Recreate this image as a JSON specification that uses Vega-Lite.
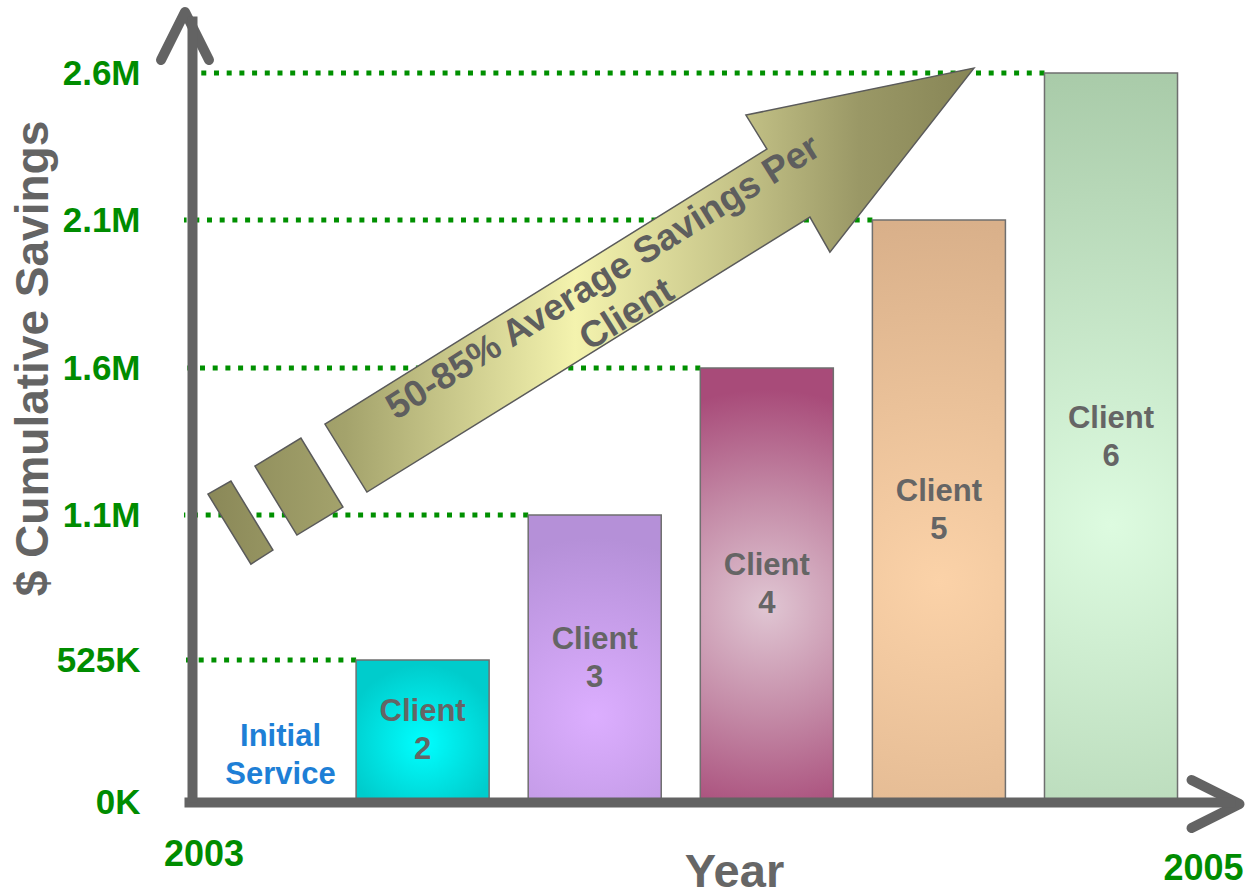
{
  "$schema": "https://vega.github.io/schema/vega-lite/v6.json",
  "width": 1051,
  "height": 786,
  "autosize": {"type": "none"},
  "padding": {"left": 184, "top": 16, "right": 12, "bottom": 93},
  "background": "white",
  "config": {"view": {"stroke": null}, "font": "Liberation Sans"},
  "data": {"values": [
    {"name": "Initial Service", "value": 0},
    {"name": "Client 2", "value": 525},
    {"name": "Client 3", "value": 1100},
    {"name": "Client 4", "value": 1600},
    {"name": "Client 5", "value": 2100},
    {"name": "Client 6", "value": 2600}
  ]},
  "layer": [
    {
      "layer": [
        {
          "transform": [{"filter": "datum.value > 0"}],
          "mark": {"type": "rule", "color": "#009000", "strokeWidth": 5, "strokeDash": [5, 7.7]},
          "encoding": {
            "x": {"field": "name", "type": "nominal", "bandPosition": 0},
            "x2": {"datum": "Initial Service", "bandPosition": 0},
            "y": {"field": "value", "type": "quantitative"}
          }
        },
        {
          "transform": [{"filter": "datum.value > 0"}],
          "mark": {"type": "bar", "stroke": "#6f6f6f", "strokeWidth": 1.5},
          "encoding": {
            "x": {
              "field": "name", "type": "nominal",
              "scale": {"domain": ["Initial Service", "Client 2", "Client 3", "Client 4", "Client 5", "Client 6"], "paddingInner": 0.227, "paddingOuter": 0.167, "align": 0},
              "axis": {"labels": false, "ticks": false, "domainWidth": 10, "domainColor": "#636363", "zindex": 1, "title": "Year", "titleFont": "Liberation Sans", "titleFontSize": 47, "titleFontWeight": "bold", "titleColor": "#666666", "titleX": 550, "titleY": 84, "titleAlign": "center", "titleBaseline": "alphabetic"}
            },
            "y": {
              "field": "value", "type": "quantitative",
              "scale": {"domain": [0, 525, 1100, 1600, 2100, 2600, 2795], "range": [786, 644, 499, 352, 204, 57, 0], "nice": false, "zero": false},
              "axis": {"values": [0, 525, 1100, 1600, 2100, 2600], "labelExpr": "datum.value < 1000 ? datum.value + 'K' : format(datum.value / 1000, '.1f') + 'M'", "offset": -8, "ticks": false, "tickSize": 0, "grid": false, "domainWidth": 10, "domainColor": "#636363", "zindex": 1, "labelFont": "Liberation Sans", "labelFontSize": 35, "labelFontWeight": "bold", "labelColor": "#008c00", "labelPadding": 52, "labelOverlap": false, "title": "$ Cumulative Savings", "titleFont": "Liberation Sans", "titleFontSize": 46, "titleFontWeight": "bold", "titleColor": "#646464", "titleX": -159, "titleY": 342, "titleAngle": -90, "titleAlign": "center", "titleBaseline": "middle"}
            },
            "fill": {
              "condition": [
                {"test": "datum.name === 'Client 2'", "value": {"gradient": "radial", "x1": 0.5, "y1": 0.58, "r1": 0, "x2": 0.5, "y2": 0.58, "r2": 0.55, "stops": [{"offset": 0, "color": "#00ffff"}, {"offset": 1, "color": "#00cccc"}]}},
                {"test": "datum.name === 'Client 3'", "value": {"gradient": "radial", "x1": 0.5, "y1": 0.7, "r1": 0, "x2": 0.5, "y2": 0.7, "r2": 0.62, "stops": [{"offset": 0, "color": "#dcaeff"}, {"offset": 1, "color": "#b590d8"}]}},
                {"test": "datum.name === 'Client 4'", "value": {"gradient": "radial", "x1": 0.5, "y1": 0.55, "r1": 0, "x2": 0.5, "y2": 0.55, "r2": 0.5, "stops": [{"offset": 0, "color": "#e0c6d3"}, {"offset": 0.5, "color": "#c48ba7"}, {"offset": 1, "color": "#a84b79"}]}},
                {"test": "datum.name === 'Client 5'", "value": {"gradient": "radial", "x1": 0.5, "y1": 0.62, "r1": 0, "x2": 0.5, "y2": 0.62, "r2": 0.62, "stops": [{"offset": 0, "color": "#fbd2a8"}, {"offset": 1, "color": "#d9b08a"}]}}
              ],
              "value": {"gradient": "radial", "x1": 0.5, "y1": 0.62, "r1": 0, "x2": 0.5, "y2": 0.62, "r2": 0.62, "stops": [{"offset": 0, "color": "#ddfbe0"}, {"offset": 1, "color": "#a9cba9"}]}
            }
          }
        },
        {
          "data": {"values": [{"a": 1}]},
          "mark": {
            "type": "point",
            "shape": "M-323,144L119,-131L98,-165L326,-212L182,-28L162,-63L-281,212Z M-440,214L-417,201L-375,270L-397,284Z M-393,186L-347,158L-305,227L-351,255Z",
            "size": 4, "filled": true, "opacity": 1, "stroke": "#5a5a5a", "strokeWidth": 1.5,
            "fill": {"gradient": "linear", "x1": 0, "y1": 0.5, "x2": 1, "y2": 0.5, "stops": [{"offset": 0, "color": "#8a8858"}, {"offset": 0.18, "color": "#a4a36c"}, {"offset": 0.48, "color": "#f4f3ae"}, {"offset": 0.7, "color": "#c3c186"}, {"offset": 0.85, "color": "#9a9866"}, {"offset": 1, "color": "#878556"}]}
          },
          "encoding": {
            "x": {"datum": "Client 3", "type": "nominal", "bandPosition": 0.9},
            "y": {"datum": 1897, "type": "quantitative"}
          }
        },
        {
          "data": {"values": [{"label": "50-85% Average Savings Per\nClient"}]},
          "mark": {"type": "text", "angle": -32, "font": "Liberation Sans", "fontSize": 37, "fontWeight": "bold", "lineHeight": 44, "lineBreak": "\n", "color": "#5e5e5e", "align": "center", "baseline": "middle"},
          "encoding": {
            "x": {"datum": "Client 3", "type": "nominal", "bandPosition": 0.567},
            "y": {"datum": 1905, "type": "quantitative"},
            "text": {"field": "label"}
          }
        },
        {
          "data": {"values": [{"a": 1}]},
          "mark": {"type": "point", "shape": "M-23,44L1,-4L25,44", "size": 4, "filled": false, "opacity": 1, "stroke": "#636363", "strokeWidth": 10, "strokeCap": "round", "strokeJoin": "round", "dx": 8},
          "encoding": {
            "x": {"datum": "Initial Service", "type": "nominal", "bandPosition": 0},
            "y": {"datum": 2795, "type": "quantitative"}
          }
        },
        {
          "data": {"values": [{"a": 1}]},
          "mark": {"type": "point", "shape": "M14,-22L62,2L14,26", "size": 4, "filled": false, "opacity": 1, "stroke": "#636363", "strokeWidth": 10, "strokeCap": "round", "strokeJoin": "round"},
          "encoding": {
            "x": {"datum": "Client 6", "type": "nominal", "bandPosition": 1},
            "y": {"datum": 0, "type": "quantitative"}
          }
        },
        {
          "data": {"values": [{"t": "2003"}]},
          "mark": {"type": "text", "font": "Liberation Sans", "fontSize": 36, "fontWeight": "bold", "color": "#008c00", "align": "center", "baseline": "middle", "dx": 20, "dy": 53},
          "encoding": {
            "x": {"datum": "Initial Service", "type": "nominal", "bandPosition": 0},
            "y": {"datum": 0, "type": "quantitative"},
            "text": {"field": "t"}
          }
        },
        {
          "data": {"values": [{"t": "2005"}]},
          "mark": {"type": "text", "font": "Liberation Sans", "fontSize": 36, "fontWeight": "bold", "color": "#008c00", "align": "center", "baseline": "middle", "dx": 26, "dy": 67},
          "encoding": {
            "x": {"datum": "Client 6", "type": "nominal", "bandPosition": 1},
            "y": {"datum": 0, "type": "quantitative"},
            "text": {"field": "t"}
          }
        }
      ]
    },
    {
      "encoding": {
        "x": {"field": "name", "type": "nominal"},
        "y": {"field": "value", "type": "quantitative", "axis": null, "scale": {"domain": [0, 525, 1100, 1600, 2100, 2600], "range": [767, 696, 623.5, 550, 476, 402.5], "nice": false, "zero": false}},
        "text": {"field": "name", "type": "nominal"}
      },
      "layer": [
        {
          "transform": [{"filter": "datum.value > 0"}],
          "mark": {"type": "text", "font": "Liberation Sans", "fontSize": 31, "fontWeight": "bold", "lineHeight": 38, "lineBreak": " ", "color": "#656565", "align": "center", "baseline": "middle"}
        },
        {
          "transform": [{"filter": "datum.value == 0"}],
          "mark": {"type": "text", "font": "Liberation Sans", "fontSize": 31, "fontWeight": "bold", "lineHeight": 38, "lineBreak": " ", "color": "#1e7fd6", "align": "center", "baseline": "middle", "dx": 30, "dy": -46}
        }
      ]
    }
  ],
  "resolve": {"scale": {"y": "independent"}}
}
